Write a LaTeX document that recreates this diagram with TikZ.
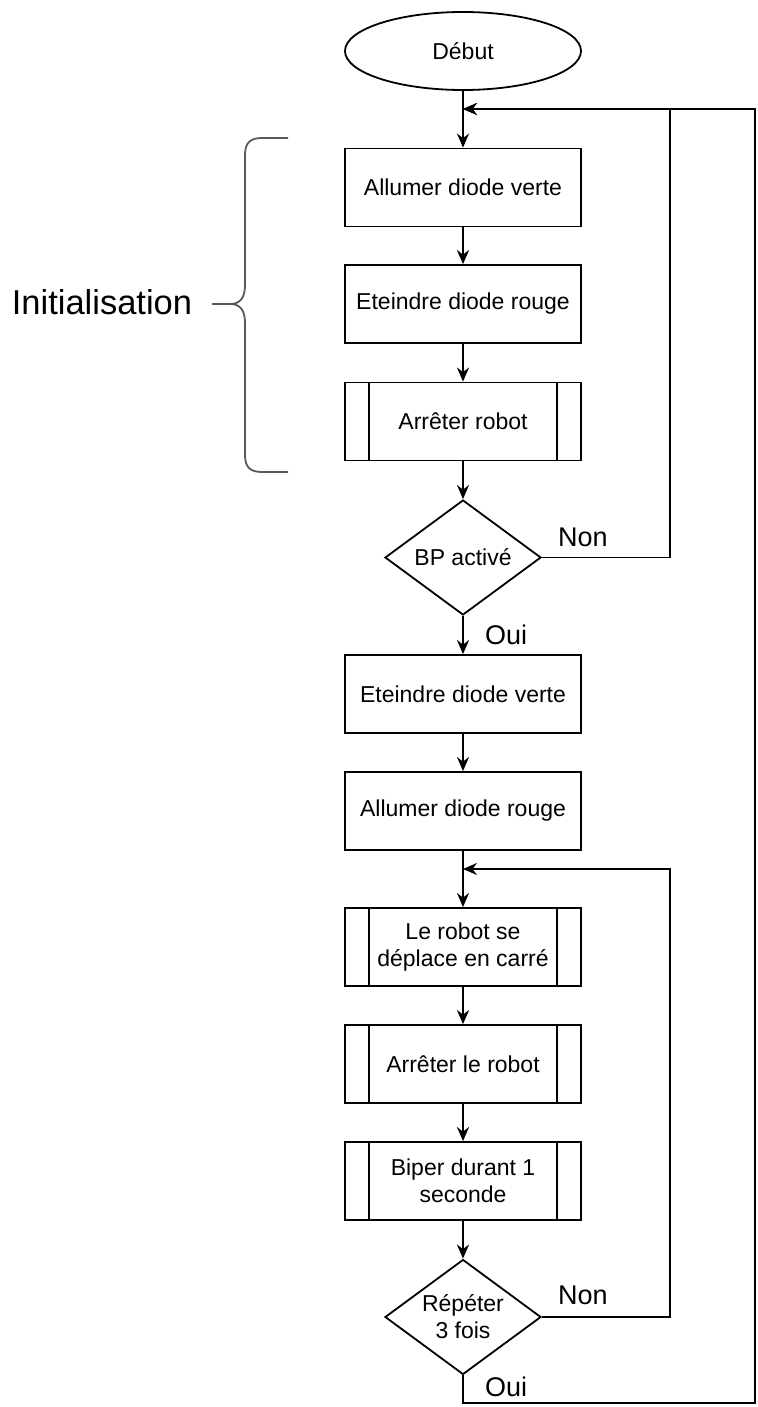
\documentclass[tikz,border=0pt]{standalone}
\usepackage{fontspec}
\setmainfont{Liberation Sans}
\usetikzlibrary{shapes.geometric,arrows.meta}
\begin{document}
\begin{tikzpicture}[x=1pt,y=-1pt,
  every node/.style={font=\fontsize{23}{27}\selectfont},
  base/.style={draw, line width=1.8pt, align=center, inner sep=0pt},
  proc/.style={base, rectangle, minimum width=236pt, minimum height=78pt},
  subproc/.style={proc, path picture={
     \draw[line width=1.8pt] ([xshift=24pt]path picture bounding box.north west) -- ([xshift=24pt]path picture bounding box.south west);
     \draw[line width=1.8pt] ([xshift=-24pt]path picture bounding box.north east) -- ([xshift=-24pt]path picture bounding box.south east);}},
  term/.style={base, ellipse, minimum width=236pt, minimum height=78pt},
  decision/.style={base, diamond, aspect=1.357, minimum width=156pt, minimum height=115pt},
  arr/.style={line width=1.8pt, -{Stealth[length=14pt,width=12pt,inset=4.5pt]}},
  lbl/.style={inner sep=0pt, anchor=west, font=\fontsize{27}{30}\selectfont},
  bracestyle/.style={line width=1.8pt, draw=black!65}
]
\useasboundingbox (0,0) rectangle (757,1407);

\node[term] (start) at (463,51) {Début};
\node[proc] (b1) at (463,187.5) {Allumer diode verte};
\node[proc] (b2) at (463,304) {Eteindre diode rouge};
\node[subproc] (b3) at (463,421.5) {Arrêter robot};
\node[decision] (d1) at (463,557.5) {BP activé};
\node[proc] (b4) at (463,694) {Eteindre diode verte};
\node[proc] (b5) at (463,811) {Allumer diode rouge};
\node[subproc] (b6) at (463,947) {Le robot se\\déplace en carré};
\node[subproc] (b7) at (463,1064) {Arrêter le robot};
\node[subproc] (b8) at (463,1181) {Biper durant 1\\seconde};
\node[decision] (d2) at (463,1317) {Répéter\\3 fois};

\coordinate (top) at (463,109);
\coordinate (n1c) at (670,109);
\coordinate (loop2) at (463,869);
\coordinate (n2c) at (670,869);
\coordinate (bl) at (463,1403);
\coordinate (br) at (755,1403);
\coordinate (tr) at (755,109);

\draw[arr] (start) -- (b1);
\draw[arr] (b1) -- (b2);
\draw[arr] (b2) -- (b3);
\draw[arr] (b3) -- (d1);
\draw[arr] (d1) -- (b4);
\draw[arr] (b4) -- (b5);
\draw[arr] (b5) -- (b6);
\draw[arr] (b6) -- (b7);
\draw[arr] (b7) -- (b8);
\draw[arr] (b8) -- (d2);

\draw[arr] (d1.east) -| (n1c) -- (top);
\draw[arr] (d2.east) -| (n2c) -- (loop2);
\draw[arr] (d2.south) -- (bl) -- (br) -- (tr) -- (top);

\node[lbl] (non1) at (558,537) {Non};
\node[lbl] (oui1) at (485,635) {Oui};
\node[lbl] (non2) at (558,1295) {Non};
\node[lbl] (oui2) at (485,1387) {Oui};

\draw[bracestyle] (288,138) -- (262,138) .. controls (250,138) and (245,143) .. (245,155)
  -- (245,285) .. controls (245,298) and (240,304) .. (230,304) -- (212,304);
\draw[bracestyle] (230,304) .. controls (240,304) and (245,310) .. (245,323)
  -- (245,455) .. controls (245,467) and (250,472) .. (262,472) -- (288,472);
\node[inner sep=0pt, font=\fontsize{34.5}{38}\selectfont] (init) at (102,302) {Initialisation};
\end{tikzpicture}
\end{document}
